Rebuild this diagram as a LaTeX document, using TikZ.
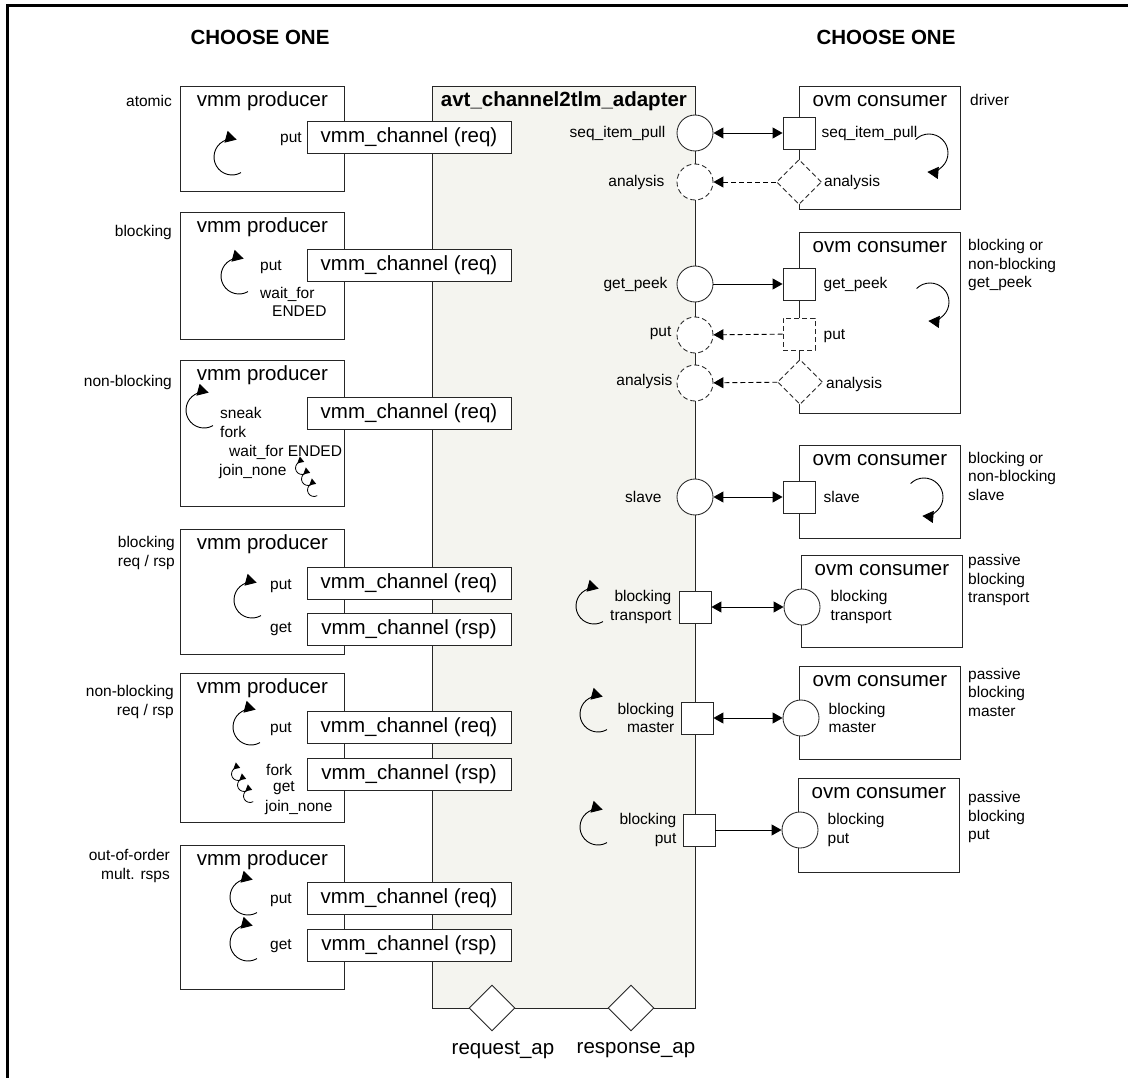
\documentclass[tikz,border=0pt]{standalone}
\usepackage{fontspec}
\setmainfont{Liberation Sans}
\usetikzlibrary{arrows.meta,shapes.geometric,positioning}

\definecolor{adfill}{HTML}{F4F4EF}

\tikzset{
  big/.style={font=\fontsize{20.5}{24}\selectfont, inner sep=0pt},
  bigb/.style={font=\fontsize{20.5}{24}\selectfont\bfseries, inner sep=0pt},
  ttl/.style={big, text height=15pt, text depth=4.5pt},
  lbl/.style={font=\fontsize{15.5}{18.5}\selectfont, inner sep=0pt},
  blk/.style={draw=black!85, line width=0.85pt, fill=white, anchor=north west, inner sep=0pt},
  chan/.style={draw=black!85, line width=0.85pt, fill=white, minimum width=204pt, minimum height=32pt, inner sep=0pt, font=\fontsize{20.5}{24}\selectfont},
  pcirc/.style={circle, draw=black!85, line width=0.85pt, fill=white, minimum size=36pt, inner sep=0pt},
  psq/.style={rectangle, draw=black!85, line width=0.85pt, fill=white, minimum size=32pt, inner sep=0pt},
  pdia/.style={diamond, draw=black!85, line width=0.85pt, fill=white, minimum width=45pt, minimum height=45pt, inner sep=0pt},
  dsh/.style={dash pattern=on 5pt off 3pt},
  conn/.style={line width=0.9pt},
  >={Triangle[length=10pt,width=11pt]}
}
\newcommand\prodloop[2]{\draw[line width=0.9pt,-{Triangle[length=11pt,width=12pt]}] (#1,#2) ++(60:18) arc (60:285:18);}
\newcommand\consloop[2]{\draw[line width=0.9pt,-{Triangle[length=11pt,width=12pt]}] (#1,#2) ++(225:19) arc (225:455:19);}
\newcommand\tinyloops[2]{\foreach \i in {0,1,2}
  \draw[line width=0.8pt,-{Triangle[length=6pt,width=7pt]}] ({#1+6*\i},{#2+11*\i}) ++(60:6.5) arc (60:290:6.5);}

\begin{document}
\begin{tikzpicture}[x=1pt,y=-1pt]
\useasboundingbox (0,0) rectangle (1128,1078);
\draw[line width=2.8pt] (7.3,1078) -- (7.3,5.3) -- (1128,5.3);

\node[bigb] (chooseL) at (260,37) {CHOOSE ONE};
\node[bigb] (chooseR) at (886,37) {CHOOSE ONE};

% adapter
\node[blk, fill=adfill, minimum width=263pt, minimum height=922pt] (adapt) at (432,86) {};
\node[bigb, below=5pt of adapt.north] (adtitle) {avt\_channel2tlm\_adapter};

% producers
\node[blk, minimum width=164pt, minimum height=105pt] (prodA) at (180,86) {};
\node[blk, minimum width=164pt, minimum height=127pt] (prodB) at (180,212) {};
\node[blk, minimum width=164pt, minimum height=146pt] (prodC) at (180,360) {};
\node[blk, minimum width=164pt, minimum height=125pt] (prodD) at (180,529) {};
\node[blk, minimum width=164pt, minimum height=149pt] (prodE) at (180,673) {};
\node[blk, minimum width=164pt, minimum height=144pt] (prodF) at (180,845) {};
\foreach \p in {prodA,prodB,prodC,prodD,prodE,prodF}
  \node[ttl, below=5pt of \p.north] (\p-t) {vmm producer};

% consumers
\node[blk, minimum width=161pt, minimum height=123pt] (consA) at (799,86) {};
\node[blk, minimum width=161pt, minimum height=181pt] (consB) at (799,232) {};
\node[blk, minimum width=161pt, minimum height=93pt] (consC) at (799,445) {};
\node[blk, minimum width=161pt, minimum height=92pt] (consD) at (801,555) {};
\node[blk, minimum width=161pt, minimum height=93pt] (consE) at (799,666) {};
\node[blk, minimum width=161pt, minimum height=94pt] (consF) at (798,778) {};
\foreach \c in {consA,consB,consC,consD,consE,consF}
  \node[ttl, below=5pt of \c.north] (\c-t) {ovm consumer};

% channels
\node[chan] (chanA) at (409,137) {vmm\_channel (req)};
\node[chan] (chanB) at (409,265) {vmm\_channel (req)};
\node[chan] (chanC) at (409,413) {vmm\_channel (req)};
\node[chan] (chanDq) at (409,583) {vmm\_channel (req)};
\node[chan] (chanDs) at (409,629) {vmm\_channel (rsp)};
\node[chan] (chanEq) at (409,727) {vmm\_channel (req)};
\node[chan] (chanEs) at (409,774) {vmm\_channel (rsp)};
\node[chan] (chanFq) at (409,898) {vmm\_channel (req)};
\node[chan] (chanFs) at (409,945) {vmm\_channel (rsp)};

% adapter ports
\node[pcirc] (sipA) at (695,133) {};
\node[pcirc, dsh] (anaA) at (695,182) {};
\node[pcirc] (gpA) at (695,284) {};
\node[pcirc, dsh] (putA) at (695,335) {};
\node[pcirc, dsh] (anaB) at (695,383) {};
\node[pcirc] (slvA) at (695,497) {};
\node[psq] (trnA) at (695,607) {};
\node[psq] (mstA) at (697,718) {};
\node[psq] (bputA) at (699,830) {};
\node[pdia, minimum width=46pt, minimum height=46pt] (reqAp) at (492,1008) {};
\node[pdia, minimum width=46pt, minimum height=46pt] (rspAp) at (631,1008) {};

% consumer ports
\node[psq] (sipC) at (799,133) {};
\node[pdia, dsh] (anaC) at (799,182) {};
\node[psq] (gpC) at (799,284) {};
\node[psq, dsh] (putC) at (799,334) {};
\node[pdia, dsh] (anaD) at (800,382) {};
\node[psq] (slvC) at (799,497) {};
\node[pcirc] (trnC) at (802,607) {};
\node[pcirc] (mstC) at (801,718) {};
\node[pcirc] (bputC) at (800,830) {};

% connectors
\draw[conn,<->] (sipA) -- (sipC);
\draw[conn,dsh,->] (anaC) -- (anaA);
\draw[conn,->] (gpA) -- (gpC);
\draw[conn,dsh,->] (putC) -- (putA);
\draw[conn,dsh,->] (anaD) -- (anaB);
\draw[conn,<->] (slvA) -- (slvC);
\draw[conn,<->] (trnA) -- (trnC);
\draw[conn,<->] (mstA) -- (mstC);
\draw[conn,->] (bputA) -- (bputC);

% loops
\prodloop{232}{157}
\prodloop{239}{276}
\prodloop{204}{410}
\prodloop{252}{600}
\prodloop{251}{727}
\prodloop{248}{897}
\prodloop{248}{943}
\prodloop{594}{606}
\prodloop{598}{714}
\prodloop{598}{827}
\consloop{929}{153}
\consloop{930}{302}
\consloop{924}{497}
\tinyloops{302}{468}
\tinyloops{238}{774}

% producer side labels
\node[lbl, anchor=east] (lA) at (172,101) {atomic};
\node[lbl, anchor=east] (lB) at (172,232) {blocking};
\node[lbl, anchor=east] (lC) at (172,382) {non-blocking};
\node[lbl, anchor=east, align=right] (lD) at (175,553) {blocking\\req / rsp};
\node[lbl, anchor=east, align=right] (lE) at (174,702) {non-blocking\\req / rsp};
\node[lbl, anchor=east, align=right] (lF) at (170,866) {out-of-order\\mult. rsps};

% inside producers
\node[lbl, anchor=west] (tA1) at (280,139) {put};
\node[lbl, anchor=west] (tB1) at (260,267) {put};
\node[lbl, anchor=west] (tB2) at (260,294) {wait\_for};
\node[lbl, anchor=west] (tB3) at (272,311) {ENDED};
\node[lbl, anchor=west] (tC1) at (220,413) {sneak};
\node[lbl, anchor=west] (tC2) at (220,432) {fork};
\node[lbl, anchor=west] (tC3) at (229,452) {wait\_for ENDED};
\node[lbl, anchor=west] (tC4) at (219,471) {join\_none};
\node[lbl, anchor=west] (tD1) at (270,586) {put};
\node[lbl, anchor=west] (tD2) at (270,629) {get};
\node[lbl, anchor=west] (tE1) at (270,729) {put};
\node[lbl, anchor=west] (tE2) at (266,770) {fork};
\node[lbl, anchor=west] (tE3) at (273,788) {get};
\node[lbl, anchor=west] (tE4) at (265,807) {join\_none};
\node[lbl, anchor=west] (tF1) at (270,900) {put};
\node[lbl, anchor=west] (tF2) at (270,946) {get};

% adapter port labels
\node[lbl, left=11pt of sipA] {seq\_item\_pull};
\node[lbl, left=12pt of anaA] {analysis};
\node[lbl, left=9pt of gpA] {get\_peek};
\node[lbl, left=5pt of putA, yshift=2pt] {put};
\node[lbl, left=4pt of anaB, yshift=2pt] {analysis};
\node[lbl, left=15pt of slvA] {slave};
\node[lbl, left=7pt of trnA, align=right] {blocking\\transport};
\node[lbl, left=6pt of mstA, align=right] {blocking\\master};
\node[lbl, left=6pt of bputA, align=right] {blocking\\put};
\node[big] (reqApL) at (503,1050) {request\_ap};
\node[big] (rspApL) at (636,1050) {response\_ap};

% consumer port labels
\node[lbl, right=6pt of sipC] {seq\_item\_pull};
\node[lbl, right=2pt of anaC] {analysis};
\node[lbl, right=8pt of gpC] {get\_peek};
\node[lbl, right=8pt of putC, yshift=-2pt] {put};
\node[lbl, right=3pt of anaD, yshift=-2pt] {analysis};
\node[lbl, right=8pt of slvC] {slave};
\node[lbl, right=10pt of trnC, align=left] {blocking\\transport};
\node[lbl, right=9pt of mstC, align=left] {blocking\\master};
\node[lbl, right=9pt of bputC, align=left] {blocking\\put};

% consumer side labels
\node[lbl, anchor=west] (rA) at (970,100) {driver};
\node[lbl, anchor=west, align=left] (rB) at (968,265) {blocking or\\non-blocking\\get\_peek};
\node[lbl, anchor=west, align=left] (rC) at (968,476) {blocking or\\non-blocking\\slave};
\node[lbl, anchor=west, align=left] (rD) at (968,580) {passive\\blocking\\transport};
\node[lbl, anchor=west, align=left] (rE) at (968,692) {passive\\blocking\\master};
\node[lbl, anchor=west, align=left] (rF) at (968,817) {passive\\blocking\\put};
\end{tikzpicture}
\end{document}
